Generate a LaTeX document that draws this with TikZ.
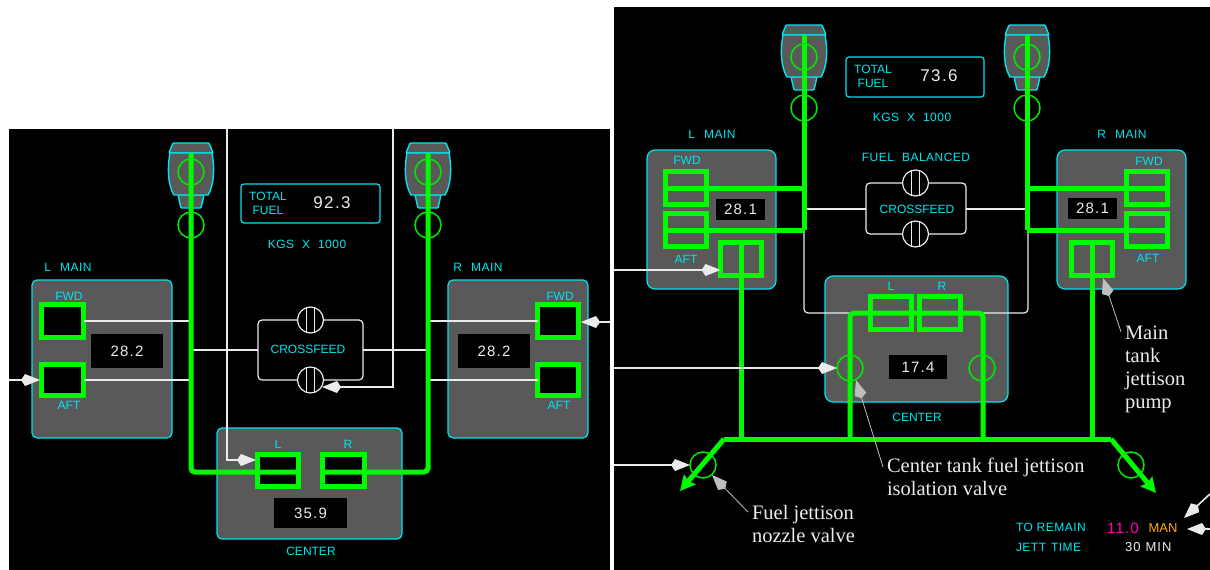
\documentclass[tikz,border=0pt]{standalone}
\usepackage{fontspec}
\setmainfont{Liberation Sans}
\newfontfamily\dispfont[LetterSpace=8]{Liberation Sans}
\newfontfamily\lblfont[LetterSpace=4]{Liberation Sans}
\newfontfamily\noteserif{Liberation Serif}
\usetikzlibrary{arrows.meta}
\definecolor{cy}{RGB}{0,230,240}
\definecolor{tankgray}{RGB}{89,89,89}
\definecolor{gr}{RGB}{0,250,0}
\definecolor{grthin}{RGB}{0,235,0}
\definecolor{wh}{RGB}{235,235,235}
\definecolor{ptr}{RGB}{190,190,190}
\definecolor{mg}{RGB}{255,0,200}
\definecolor{og}{RGB}{255,170,0}
\newcommand{\boxat}[7]{%
  \pgfmathsetmacro\bxw{#5-#3}\pgfmathsetmacro\bxh{#6-#4}%
  \pgfmathsetmacro\bxx{(#3+#5)/2}\pgfmathsetmacro\bxy{(#4+#6)/2}%
  \node[#1,minimum width=\bxw pt,minimum height=\bxh pt] (#2) at (\bxx,\bxy) {#7};}
\newcommand{\engine}[2]{%
  \begin{scope}[shift={(#1,#2)}]
    \draw[draw=cy,fill=tankgray,line width=1.4pt,rounded corners=1pt]
      (-22,10) -- (-18,0) -- (18,0) -- (22,10) -- cycle;
    \draw[draw=cy,fill=tankgray,line width=1.4pt,rounded corners=1pt]
      (-13,52) -- (-10,65) -- (10,65) -- (13,52) -- cycle;
    \draw[draw=cy,fill=tankgray,line width=1.4pt]
      (-21,10) .. controls (-24,26) and (-23,42) .. (-17,52) -- (17,52)
      .. controls (23,42) and (24,26) .. (21,10) -- cycle;
  \end{scope}}
\newcommand{\valvebars}[1]{%
  \draw[wh,line width=1pt] ([xshift=-3.7pt]#1.north) -- ([xshift=-3.7pt]#1.south);
  \draw[wh,line width=1pt] ([xshift=3.7pt]#1.north) -- ([xshift=3.7pt]#1.south);}
\tikzset{
  x=1pt,y=-1pt,
  every node/.style={inner sep=0pt,outer sep=0pt,font=\fontsize{12}{14}\selectfont},
  tank/.style={draw=cy,fill=tankgray,line width=1.2pt,rounded corners=5pt},
  bigtank/.style={tank,rounded corners=8pt},
  gbox/.style={draw=gr,fill=black,line width=5pt},
  gboxopen/.style={draw=gr,line width=5pt},
  disp/.style={fill=black,text=wh,font=\dispfont\fontsize{15}{17}\selectfont},
  fbox/.style={draw=cy,line width=1.2pt,rounded corners=3pt},
  cyt/.style={text=cy},
  cyl/.style={text=cy,font=\lblfont\fontsize{12}{14}\selectfont},
  gcirc/.style={circle,draw=grthin,line width=1.5pt,minimum size=26pt},
  wvalve/.style={circle,draw=wh,fill=black,line width=1.2pt,minimum size=26pt},
  gl/.style={draw=gr,line width=5pt},
  wl/.style={draw=wh,line width=1.6pt},
  thinwl/.style={draw=wh,line width=1.2pt,rounded corners=4pt},
  warr/.style={draw=wh,line width=1.6pt,-{Kite[length=19pt,width=12pt,inset=4pt,fill=wh]}},
  garr/.style={gl,-{Stealth[length=15pt,width=15pt,inset=2pt]}},
  ptrarr/.style={draw=ptr,line width=.8pt,-{Kite[length=19pt,width=12pt,inset=4pt,fill=ptr]}},
  note/.style={text=wh,align=left,anchor=north west,font=\noteserif\fontsize{20.5}{23}\selectfont},
}
\begin{document}
\begin{tikzpicture}
\useasboundingbox (0,0) rectangle (1210,570);
\fill[white] (0,0) rectangle (1210,570);
\fill[black] (9,129) rectangle (610,570);
\fill[black] (614,7) rectangle (1210,570);
% ---------- LEFT PANEL ----------
\engine{191}{143}
\engine{428}{143}
\boxat{tank}{lmainA}{32}{280}{172}{438}{}
\boxat{tank}{rmainA}{448}{280}{588}{438}{}
\boxat{tank}{centerA}{217}{428}{402}{539}{}
\boxat{fbox}{totalA}{241}{184}{380}{223}{}
\node[cyt] (totA) at (268,196) {TOTAL};
\node[cyt] (fuelA) at (268,210) {FUEL};
\node[text=wh,font=\dispfont\fontsize{17}{19}\selectfont] (valA) at (332,203) {92.3};
\node[cyl] (kgsA) at (307,244) {KGS\hspace{8pt}X\hspace{8pt}1000};
\node[cyl] (lmtA) at (68,267) {L\hspace{9pt}MAIN};
\node[cyl] (rmtA) at (478,267) {R\hspace{9pt}MAIN};
\node[cyt] (lfwdtA) at (69,296) {FWD};
\node[cyt] (laftA) at (69,405) {AFT};
\node[cyt] (rfwdtA) at (560,296) {FWD};
\node[cyt] (raftA) at (559,405) {AFT};
\node[cyt] (cltA) at (278,444) {L};
\node[cyt] (crtA) at (348,444) {R};
\node[cyt] (ctrA) at (311,551) {CENTER};
\boxat{disp}{ldA}{91}{334}{163}{368}{28.2}
\boxat{disp}{rdA}{458}{334}{530}{368}{28.2}
\boxat{disp}{cdA}{274}{498}{347}{528}{35.9}
\coordinate (ltopA) at (191,153);
\coordinate (rtopA) at (428,153);
\coordinate (lbusA) at (191,472);
\coordinate (rbusA) at (428,472);
\coordinate (lcmA) at (300,472);
\coordinate (rcmA) at (322,472);
\coordinate (xbL) at (193,350);
\coordinate (xbR) at (427,350);
\boxat{thinwl}{xboxA}{258}{320}{363}{380}{}
\node[cyt,fill=black,inner sep=1pt] (xtA) at (308,349) {CROSSFEED};
\node[wvalve] (xv1A) at (310.5,320) {};
\node[wvalve] (xv2A) at (310.5,380) {};
\valvebars{xv1A}\valvebars{xv2A}
\coordinate (wLf) at (190,321);
\coordinate (wLa) at (190,380);
\coordinate (wRf) at (430,321);
\coordinate (wRa) at (430,380);
\boxat{gbox}{lfA}{41.5}{304.5}{83.5}{337.5}{}
\boxat{gbox}{laA}{41.5}{364.5}{83.5}{395.5}{}
\boxat{gbox}{rfA}{537.5}{304.5}{578.5}{337.5}{}
\boxat{gbox}{raA}{537.5}{364.5}{578.5}{395.5}{}
\boxat{gbox}{clA}{257.5}{454.5}{298}{486.5}{}
\boxat{gbox}{crA}{322.5}{454.5}{364.5}{486.5}{}
\draw[wl] (wLf) -- (wLf -| lfA.east);
\draw[wl] (wLa) -- (wLa -| laA.east);
\draw[wl] (wRf) -- (wRf -| rfA.west);
\draw[wl] (wRa) -- (wRa -| raA.west);
\draw[wl] (xbL) -- (xbL -| xboxA.west);
\draw[wl] (xbR) -- (xbR -| xboxA.east);
\draw[gl,rounded corners=4pt] (ltopA) |- (lbusA) -- (clA.east |- lcmA);
\draw[gl,rounded corners=4pt] (rtopA) |- (rbusA) -- (crA.west |- rcmA);
\node[gcirc] (e1A) at (191,172) {};
\node[gcirc] (e2A) at (191,225) {};
\node[gcirc] (e3A) at (428,172) {};
\node[gcirc] (e4A) at (428,225) {};
\coordinate (inAl) at (9,380);
\coordinate (inAr) at (610,322);
\coordinate (topA1) at (227,129);
\coordinate (topA2) at (393,129);
\coordinate (elbA1) at (227,460);
\coordinate (elbA2) at (393,387);
\coordinate (tipA1) at (256,460);
\coordinate (tipA2) at (322,387);
\draw[warr] (inAl) -- (40,380);
\draw[warr] (inAr) -- (581,322);
\draw[warr] (topA1) -- (elbA1) -- (tipA1);
\draw[warr] (topA2) -- (elbA2) -- (tipA2);
% ---------- RIGHT PANEL ----------
\engine{804}{25}
\engine{1027}{25}
\boxat{bigtank}{lmainB}{647}{150}{776}{289}{}
\boxat{bigtank}{rmainB}{1057}{150}{1186}{289}{}
\boxat{bigtank}{centerB}{825}{276}{1008}{402}{}
\boxat{fbox}{totalB}{846}{57}{984}{97}{}
\node[cyt] (totB) at (873,69) {TOTAL};
\node[cyt] (fuelB) at (873,83) {FUEL};
\node[text=wh,font=\dispfont\fontsize{17}{19}\selectfont] (valB) at (939,76) {73.6};
\node[cyl] (kgsB) at (912,117) {KGS\hspace{8pt}X\hspace{8pt}1000};
\node[cyl] (balB) at (916,157) {FUEL\hspace{8pt}BALANCED};
\node[cyl] (lmtB) at (712,134) {L\hspace{9pt}MAIN};
\node[cyl] (rmtB) at (1122,134) {R\hspace{9pt}MAIN};
\node[cyt] (lfwdtB) at (687,160) {FWD};
\node[cyt] (laftB) at (686,259) {AFT};
\node[cyt] (rfwdtB) at (1149,161) {FWD};
\node[cyt] (raftB) at (1148,258) {AFT};
\node[cyt] (cltB) at (891,286) {L};
\node[cyt] (crtB) at (942,286) {R};
\node[cyt] (ctrB) at (917,417) {CENTER};
\boxat{disp}{ldB}{716}{199}{765}{220}{28.1}
\boxat{disp}{rdB}{1068}{198}{1117}{219}{28.1}
\boxat{disp}{cdB}{889}{355}{947}{379}{17.4}
\boxat{thinwl}{xboxB}{866}{183}{966}{234}{}
\node[cyt,fill=black,inner sep=1pt] (xtB) at (917,209) {CROSSFEED};
\node[wvalve] (xv1B) at (915.5,183) {};
\node[wvalve] (xv2B) at (915.5,234) {};
\valvebars{xv1B}\valvebars{xv2B}
% white interconnect
\coordinate (xbLB) at (806,209);
\coordinate (xbRB) at (1026,209);
\draw[wl] (xbLB) -- (xbLB -| xboxB.west);
\draw[wl] (xbRB) -- (xbRB -| xboxB.east);
\coordinate (lj1) at (804,230);
\coordinate (rj1) at (1028,230);
\coordinate (cl1) at (850,313);
\coordinate (cr1) at (983,313);
\draw[thinwl] (lj1) |- (cl1);
\draw[thinwl] (rj1) |- (cr1);
% green boxes
\boxat{gboxopen}{lfB}{665.5}{171.5}{706.5}{204.5}{}
\boxat{gboxopen}{laB}{665.5}{213.5}{706.5}{246.5}{}
\boxat{gboxopen}{rfB}{1126.5}{171.5}{1167.5}{204.5}{}
\boxat{gboxopen}{raB}{1126.5}{213.5}{1167.5}{246.5}{}
\boxat{gboxopen}{lpB}{720.5}{242.5}{761.5}{275.5}{}
\boxat{gboxopen}{rpB}{1071.5}{242.5}{1112.5}{275.5}{}
\boxat{gboxopen}{clB}{870.5}{296.5}{911.5}{329.5}{}
\boxat{gboxopen}{crB}{919.5}{296.5}{960.5}{329.5}{}
% green lines
\coordinate (ltopB) at (804,35);
\coordinate (rtopB) at (1027,35);
\draw[gl] (ltopB) -- (lj1);
\draw[gl] (rtopB) -- (1027,230);
\coordinate (lfm) at (804,188);
\coordinate (lam) at (804,230);
\coordinate (rfm) at (1027,188);
\coordinate (ram) at (1027,230);
\draw[gl] (lfB.west |- lfm) -- (lfm);
\draw[gl] (laB.west |- lam) -- (lam);
\draw[gl] (rfB.east |- rfm) -- (rfm);
\draw[gl] (raB.east |- ram) -- (ram);
\coordinate (busL) at (724,439);
\coordinate (busR) at (1111,439);
\coordinate (nozL) at (680,491);
\coordinate (nozR) at (1156,493);
\coordinate (busC1) at (850,439);
\coordinate (busC2) at (983,439);
\draw[gl] (lpB.north) -- (lpB.north |- busL);
\draw[gl] (rpB.north) -- (rpB.north |- busL);
\draw[gl,rounded corners=4pt] (busC1) -- (cl1) -- (cr1) -- (busC2);
\draw[gl] (busL) -- (busR);
\draw[garr] (busL) -- (nozL);
\draw[garr] (busR) -- (nozR);
\node[gcirc] (e1B) at (804,57) {};
\node[gcirc] (e2B) at (804,108) {};
\node[gcirc] (e3B) at (1027,57) {};
\node[gcirc] (e4B) at (1027,108) {};
\node[gcirc] (isoL) at (850,368) {};
\node[gcirc] (isoR) at (982,368) {};
\node[gcirc] (jetL) at (703,465) {};
\node[gcirc] (jetR) at (1131,465) {};
% control arrows
\coordinate (inB1) at (614,270);
\coordinate (inB2) at (614,368);
\coordinate (inB3) at (614,465);
\coordinate (inB4) at (1210,494);
\coordinate (inB5) at (1210,529);
\draw[warr] (inB1) -- (lpB.west |- inB1);
\draw[warr] (inB2) -- (isoL.west |- inB2);
\draw[warr] (inB3) -- (jetL.west |- inB3);
\draw[warr] (inB4) -- (1184,518);
\draw[warr] (inB5) -- (1187,529);
% annotations
\node[note] (n1) at (1125,326) {Main\\tank\\jettison\\pump};
\node[note] (n2) at (887,458) {Center tank fuel jettison\\isolation valve};
\node[note] (n3) at (752,505) {Fuel jettison\\nozzle valve};
\draw[ptrarr] (1121,332) -- (1103,278);
\draw[ptrarr] (883,467) -- (856,380);
\draw[ptrarr] (748,512) -- (712,475);
\node[cyl,anchor=west] (tr) at (1016,527) {TO REMAIN};
\node[cyl,anchor=west] (jt) at (1016,547) {JETT\hspace{5pt}TIME};
\node[text=mg,font=\dispfont\fontsize{15}{17}\selectfont] (v11) at (1123,528) {11.0};
\node[text=og,font=\fontsize{13}{15}\selectfont] (man) at (1163,528) {MAN};
\node[text=wh,anchor=west,font=\dispfont\fontsize{13}{15}\selectfont] (min) at (1125,547) {30\hspace{5pt}MIN};
\end{tikzpicture}
\end{document}
